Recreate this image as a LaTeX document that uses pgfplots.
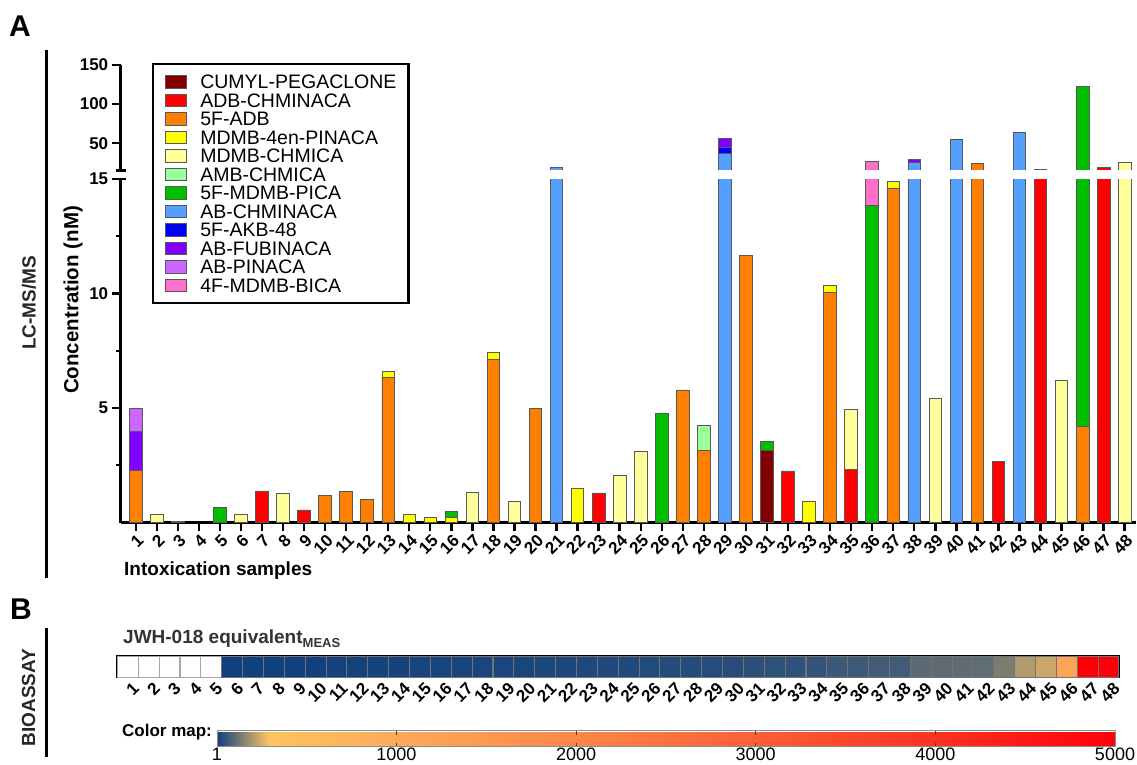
\documentclass[border=0pt]{standalone}
\usepackage{fontspec}
\setmainfont{Liberation Sans}
\usepackage{pgfplots}
\usepackage{pgfplotstable}
\pgfplotsset{compat=1.18}
\newcommand\fs[1]{\fontsize{#1}{#1}\selectfont}

\definecolor{cCP}{HTML}{800000}
\definecolor{cADB}{HTML}{FF0000}
\definecolor{cFADB}{HTML}{FF8000}
\definecolor{cMen}{HTML}{FFFF00}
\definecolor{cMCH}{HTML}{FFFF99}
\definecolor{cAMB}{HTML}{99FF99}
\definecolor{cFMD}{HTML}{00BF00}
\definecolor{cABC}{HTML}{559FFF}
\definecolor{cAKB}{HTML}{0000FF}
\definecolor{cABF}{HTML}{8000FF}
\definecolor{cABP}{HTML}{CC66FF}
\definecolor{cBICA}{HTML}{FF70CC}

\pgfplotstableread{
s  CP   ADB   FADB  Men  MCH  AMB  FMD   ABC  AKB ABF  ABP  BICA
1  0    0     2.29  0    0    0    0     0    0   1.70 1.01 0
2  0    0     0     0    0.34 0    0     0    0   0    0    0
3  0    0     0     0    0.05 0    0     0    0   0    0    0
4  0    0     0     0    0    0    0     0    0   0    0    0
5  0    0     0     0    0    0    0.67  0    0   0    0    0
6  0    0     0     0    0.37 0    0     0    0   0    0    0
7  0    1.38  0     0    0    0    0     0    0   0    0    0
8  0    0     0     0    1.26 0    0     0    0   0    0    0
9  0    0.55  0     0    0    0    0     0    0   0    0    0
10 0    0     1.17  0    0    0    0     0    0   0    0    0
11 0    0     1.35  0    0    0    0     0    0   0    0    0
12 0    0     1.00  0    0    0    0     0    0   0    0    0
13 0    0     6.33  0.27 0    0    0     0    0   0    0    0
14 0    0     0     0.34 0    0    0     0    0   0    0    0
15 0    0     0     0.21 0    0    0     0    0   0    0    0
16 0    0     0     0.21 0    0    0.28  0    0   0    0    0
17 0    0     0     0    1.30 0    0     0    0   0    0    0
18 0    0     7.11  0.30 0    0    0     0    0   0    0    0
19 0    0     0     0    0.91 0    0     0    0   0    0    0
20 0    0     5.00  0    0    0    0     0    0   0    0    0
21 0    0     0     0    0    0    0     18.9 0   0    0    0
22 0    0     0     1.51 0    0    0     0    0   0    0    0
23 0    1.29  0     0    0    0    0     0    0   0    0    0
24 0    0     0     0    2.04 0    0     0    0   0    0    0
25 0    0     0     0    3.09 0    0     0    0   0    0    0
26 0    0     0     0    0    0    4.75  0    0   0    0    0
27 0    0     5.79  0    0    0    0     0    0   0    0    0
28 0    0     3.13  0    0    1.11 0     0    0   0    0    0
29 0    0     0     0    0    0    0     37.2 7.0 12.3 0    0
30 0    0     11.67 0    0    0    0     0    0   0    0    0
31 3.17 0     0     0    0    0    0.35  0    0   0    0    0
32 0    2.25  0     0    0    0    0     0    0   0    0    0
33 0    0     0     0.94 0    0    0     0    0   0    0    0
34 0    0     10.06 0.29 0    0    0     0    0   0    0    0
35 0    2.33  0     0    2.61 0    0     0    0   0    0    0
36 0    0     0     0    0    0    13.83 0    0   0    0    12.8
37 0    0     14.59 0.29 0    0    0     0    0   0    0    0
38 0    0     0     0    0    0    0     25.3 0   4.2  0    0
39 0    0     0     0    5.44 0    0     0    0   0    0    0
40 0    0     0     0    0    0    0     54.8 0   0    0    0
41 0    0     24.0  0    0    0    0     0    0   0    0    0
42 0    2.66  0     0    0    0    0     0    0   0    0    0
43 0    0     0     0    0    0    0     63.4 0   0    0    0
44 0    16.0  0     0    0    0    0     0    0   0    0    0
45 0    0     0     0    6.20 0    0     0    0   0    0    0
46 0    0     4.18  0    0    0    118.8 0    0   0    0    0
47 0    19.2  0     0    0    0    0     0    0   0    0    0
48 0    0     0     0    24.9 0    0     0    0   0    0    0
}\conc

\pgfplotstableread{
x  y   m
6  0.5 2
7  0.5 3
8  0.5 4
9  0.5 5
10 0.5 6
11 0.5 7
12 0.5 8
13 0.5 9
14 0.5 10
15 0.5 12
16 0.5 13
17 0.5 14
18 0.5 15
19 0.5 16
20 0.5 17
21 0.5 18
22 0.5 19
23 0.5 21
24 0.5 23
25 0.5 24
26 0.5 25
27 0.5 27
28 0.5 28
29 0.5 30
30 0.5 32
31 0.5 38
32 0.5 40
33 0.5 42
34 0.5 45
35 0.5 58
36 0.5 60
37 0.5 62
38 0.5 64
39 0.5 95
40 0.5 97
41 0.5 99
42 0.5 101
43 0.5 135
44 0.5 200
45 0.5 228
46 0.5 1150
47 0.5 5000
48 0.5 5000
}\heat

\pgfplotsset{
  colormap={jwh}{rgb255(0pt)=(14,63,126); rgb255(28.8pt)=(253,195,98); rgb255(100pt)=(253,170,88); rgb255(200pt)=(252,135,72); rgb255(300pt)=(252,95,55); rgb255(400pt)=(250,50,35); rgb255(500pt)=(255,0,10)},
  barleg/.style={draw=black!65, line width=0.8pt,
    legend image code/.code={\draw[##1,/tikz/line width=0.8pt] (0pt,-6.3pt) rectangle (20.7pt,6.3pt);}},
  mybase/.style={
    scale only axis, ybar stacked, bar width=12.6pt,
    xmin=0.287, xmax=48.54, width=1015.3pt, enlargelimits=false,
    axis line style={line width=2.6pt},
    every tick/.style={black, line width=2.4pt},
    major tick length=9pt, minor tick length=5pt,
    tick align=outside,
    /pgf/number format/assume math mode=true,
    yticklabel style={font=\fs{17}\bfseries},
  }
}
\newcommand\allbars{%
  \addplot[barleg, fill=cCP]   table[x=s,y=CP]  {\conc};
  \addplot[barleg, fill=cADB]  table[x=s,y=ADB] {\conc};
  \addplot[barleg, fill=cFADB] table[x=s,y=FADB]{\conc};
  \addplot[barleg, fill=cMen]  table[x=s,y=Men] {\conc};
  \addplot[barleg, fill=cMCH]  table[x=s,y=MCH] {\conc};
  \addplot[barleg, fill=cAMB]  table[x=s,y=AMB] {\conc};
  \addplot[barleg, fill=cFMD]  table[x=s,y=FMD] {\conc};
  \addplot[barleg, fill=cABC]  table[x=s,y=ABC] {\conc};
  \addplot[barleg, fill=cAKB]  table[x=s,y=AKB] {\conc};
  \addplot[barleg, fill=cABF]  table[x=s,y=ABF] {\conc};
  \addplot[barleg, fill=cABP]  table[x=s,y=ABP] {\conc};
  \addplot[barleg, fill=cBICA] table[x=s,y=BICA]{\conc};
}

\begin{document}
\begin{tikzpicture}
\path[use as bounding box] (0,0) rectangle (1137pt,-765pt);

% lower segment
\begin{axis}[mybase, at={(120.7pt,-522.5pt)}, anchor=south west, height=343.5pt,
  ymin=0, ymax=15, axis x line*=bottom, axis y line*=left,
  xtick={1,...,48}, ytick={5,10,15}, minor ytick={2.5,7.5,12.5},
  xticklabel style={font=\fs{17}\bfseries, rotate=45, anchor=east, inner sep=1pt, yshift=-8pt},
]
\allbars
\end{axis}

% upper segment
\begin{axis}[mybase, at={(120.7pt,-170.5pt)}, anchor=south west, height=105.5pt,
  ymin=15, ymax=150, axis x line=none, axis y line*=left,
  xtick=\empty, ytick={50,100,150},
  legend cell align=left,
  legend style={at={(0.0308,1.019)}, anchor=north west, draw=black, line width=2.5pt,
    inner xsep=12pt, inner ysep=8.5pt, font=\fs{19.5},
    nodes={inner sep=0pt, text height=16pt, text depth=2.5pt},
    column sep=13.6pt, row sep=0pt},
]
\allbars
\legend{CUMYL-PEGACLONE,ADB-CHMINACA,5F-ADB,MDMB-4en-PINACA,MDMB-CHMICA,AMB-CHMICA,5F-MDMB-PICA,AB-CHMINACA,5F-AKB-48,AB-FUBINACA,AB-PINACA,4F-MDMB-BICA}
\end{axis}

% white gap over stray outlines of the broken axis, then break caps
\fill[white] (415pt,-170.1pt) rectangle (1137pt,-178.7pt);
\draw[line width=2.4pt] (116pt,-170.5pt) -- (125.5pt,-170.5pt);
\draw[line width=2.4pt] (116pt,-179pt) -- (125.5pt,-179pt);

% heat map
\begin{axis}[scale only axis, at={(117.2pt,-677pt)}, anchor=south west,
  width=1001.6pt, height=21pt, xmin=0.5, xmax=48.5, ymin=0, ymax=1,
  enlargelimits=false, axis on top, clip=false,
  axis line style={line width=2.6pt},
  ytick=\empty, xtick={1,...,48}, major tick length=0pt,
  xticklabel={\fs{17}\bfseries\pgfmathprintnumber[assume math mode=true]{\tick}},
  xticklabel style={rotate=45, anchor=east, inner sep=1pt, yshift=-12pt, xshift=1pt},
  colormap name=jwh, point meta min=1, point meta max=5000,
]
\addplot[only marks, mark=square*, mark size=10.43pt,
  mark options={fill=white, draw=black!35, line width=0.6pt}]
  coordinates {(1,0.5) (2,0.5) (3,0.5) (4,0.5) (5,0.5)};
\addplot[scatter, only marks, mark=square*, mark size=10.43pt, point meta=explicit,
  scatter/use mapped color={draw=black!55, fill=mapped color},
  mark options={line width=0.6pt}]
  table[x=x, y=y, meta=m] {\heat};
\end{axis}

% colour bar
\begin{axis}[scale only axis, at={(217pt,-738pt)}, anchor=south west,
  width=898pt, height=16pt, xmin=0, xmax=1, ymin=0, ymax=1, hide axis,
  colormap name=jwh, point meta min=1, point meta max=5000,
  colorbar horizontal,
  colorbar style={at={(parent axis.south west)}, anchor=south west,
    width=898pt, height=16pt, scale only axis,
    xtick={1,1000,2000,3000,4000,5000}, xticklabels={1,1000,2000,3000,4000,5000},
    xticklabel style={font=\fs{18}, inner sep=1pt},
    major tick length=4pt, tick align=inside, xtick pos=both, xticklabel pos=lower,
    every tick/.style={black!75, line width=0.8pt},
    axis line style={draw=black!45, line width=0.8pt}},
]
\addplot[draw=none, forget plot] coordinates {(0,0) (1,1)};
\end{axis}

% texts and panel lines
\node[anchor=base west, font=\fs{30}\bfseries, inner sep=0pt] at (9pt,-37pt) {A};
\node[anchor=base west, font=\fs{30}\bfseries, inner sep=0pt] at (10pt,-619pt) {B};
\draw[line width=3pt] (46.5pt,-50pt) -- (46.5pt,-578pt);
\draw[line width=3pt] (46.5pt,-628pt) -- (46.5pt,-757pt);
\node[rotate=90, font=\fs{19}\bfseries, text=black!85] at (29pt,-303pt) {LC-MS/MS};
\node[rotate=90, font=\fs{19}\bfseries, text=black!85] at (28.5pt,-697.5pt) {BIOASSAY};
\node[rotate=90, font=\fs{20.5}\bfseries] at (73pt,-300pt) {Concentration (nM)};
\node[anchor=base west, font=\fs{19}\bfseries, inner sep=0pt] at (124pt,-575pt) {Intoxication samples};
\node[anchor=base west, font=\fs{19}\bfseries, text=black!80, inner sep=0pt] at (123pt,-643.3pt) {JWH-018 equivalent\raisebox{-4.5pt}{\fs{13}MEAS}};
\node[anchor=base west, font=\fs{17}\bfseries, inner sep=0pt] at (122pt,-736.7pt) {Color map:};
\end{tikzpicture}
\end{document}
